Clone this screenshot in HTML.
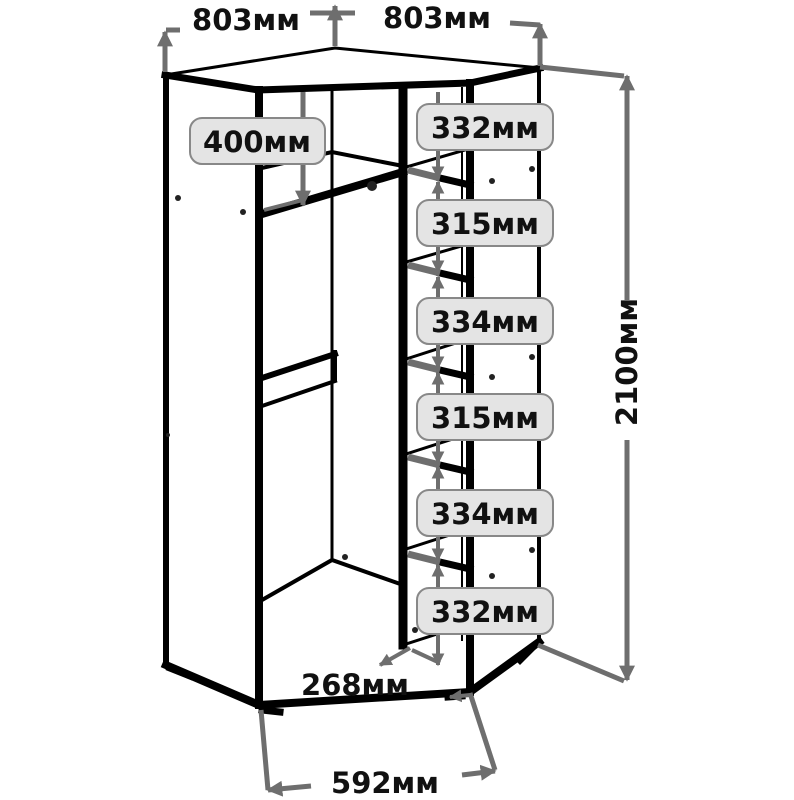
<!DOCTYPE html>
<html><head><meta charset="utf-8"><style>
html,body{margin:0;padding:0;background:#fff;width:794px;height:800px;overflow:hidden}
text{font-family:"DejaVu Sans","Liberation Sans",sans-serif;font-weight:bold;fill:#111}
</style></head><body>
<svg width="794" height="800" viewBox="0 0 794 800" xmlns="http://www.w3.org/2000/svg">
<defs>
<marker id="a" viewBox="0 0 10 10" refX="9" refY="5" markerWidth="3.2" markerHeight="3.2" orient="auto"><path d="M0,0L10,5L0,10z" fill="#6e6e6e"/></marker>
</defs>
<g stroke="#000" fill="none" stroke-linecap="square">
<path d="M165,75 L335,48 L540,68" stroke-width="3"/>
<path d="M165,75 L258,90 L470,83 L540,68" stroke-width="7"/>
<line x1="166" y1="75" x2="166" y2="665" stroke-width="6"/>
<line x1="259" y1="90" x2="259" y2="705" stroke-width="8"/>
<line x1="332" y1="92" x2="332" y2="560" stroke-width="3"/>
<line x1="403" y1="88" x2="403" y2="645" stroke-width="9"/>
<line x1="462" y1="88" x2="462" y2="640" stroke-width="2"/>
<line x1="470" y1="83" x2="470" y2="692" stroke-width="8"/>
<line x1="539" y1="68" x2="539" y2="640" stroke-width="4"/>
<path d="M166,665 L259,705 L470,692 L539,642" stroke-width="8"/>
<path d="M262,600 L332,560 L403,585" stroke-width="4"/>
<path d="M262,168 L332,152 L403,166" stroke-width="4"/>
<line x1="262" y1="214" x2="403" y2="172" stroke-width="8"/>
<line x1="262" y1="378" x2="335" y2="354" stroke-width="6"/>
<line x1="262" y1="406" x2="335" y2="381" stroke-width="4"/>
<line x1="335" y1="352" x2="335" y2="380" stroke-width="4"/>
<g stroke-width="3"><path d="M403,168 L465,150"/><path d="M403,263 L465,245"/><path d="M403,360 L465,340"/><path d="M403,455 L465,435"/><path d="M403,550 L465,530"/><path d="M403,645 L465,625"/></g>
<g stroke-width="7"><path d="M440,178 L470,185"/><path d="M440,273 L470,280"/><path d="M440,370 L470,377"/><path d="M440,465 L470,472"/><path d="M440,562 L470,569"/></g>
<path d="M170,668 L190,676 M262,710 L280,712 M448,697 L462,696 M520,660 L532,648" stroke-width="7"/>
</g>
<g fill="#222"><circle cx="178" cy="198" r="3"/><circle cx="243" cy="212" r="3"/><circle cx="168" cy="435" r="2"/><circle cx="345" cy="557" r="3"/><circle cx="415" cy="630" r="3"/><circle cx="372" cy="186" r="5"/><circle cx="492" cy="181" r="3"/><circle cx="532" cy="169" r="3"/><circle cx="492" cy="377" r="3"/><circle cx="532" cy="357" r="3"/><circle cx="492" cy="576" r="3"/><circle cx="532" cy="550" r="3"/></g>
<g stroke="#6e6e6e" stroke-width="7"><path d="M408,170 L440,178"/><path d="M408,265 L440,273"/><path d="M408,362 L440,370"/><path d="M408,457 L440,465"/><path d="M408,554 L440,562"/><path d="M264,210 L303,200" stroke-width="4"/></g>
<g stroke="#6e6e6e" stroke-width="5" fill="none">
<line x1="165" y1="72" x2="165" y2="32" marker-end="url(#a)"/>
<line x1="180" y1="30" x2="166" y2="30"/>
<line x1="335" y1="46" x2="335" y2="6" marker-end="url(#a)"/>
<line x1="310" y1="13" x2="355" y2="13"/>
<line x1="510" y1="23" x2="540" y2="25"/>
<line x1="540" y1="66" x2="540" y2="24" marker-end="url(#a)"/>
<line x1="540" y1="67" x2="624" y2="76"/>
<line x1="538" y1="645" x2="624" y2="681"/>
<line x1="627" y1="300" x2="627" y2="76" marker-end="url(#a)"/>
<line x1="627" y1="440" x2="627" y2="680" marker-end="url(#a)"/>
<line x1="303" y1="92" x2="303" y2="205" marker-end="url(#a)"/>
<g stroke-width="4">
<line x1="438" y1="92" x2="438" y2="178" marker-end="url(#a)"/>
<line x1="438" y1="240" x2="438" y2="182" marker-end="url(#a)"/>
<line x1="438" y1="245" x2="438" y2="272" marker-end="url(#a)"/>
<line x1="438" y1="300" x2="438" y2="277" marker-end="url(#a)"/>
<line x1="438" y1="345" x2="438" y2="368" marker-end="url(#a)"/>
<line x1="438" y1="395" x2="438" y2="373" marker-end="url(#a)"/>
<line x1="438" y1="440" x2="438" y2="463" marker-end="url(#a)"/>
<line x1="438" y1="490" x2="438" y2="467" marker-end="url(#a)"/>
<line x1="438" y1="537" x2="438" y2="560" marker-end="url(#a)"/>
<line x1="438" y1="588" x2="438" y2="565" marker-end="url(#a)"/>
<line x1="438" y1="635" x2="438" y2="665" marker-end="url(#a)"/>
<line x1="410" y1="648" x2="380" y2="665" marker-end="url(#a)"/>
<line x1="412" y1="650" x2="440" y2="663"/>
<line x1="470" y1="695" x2="450" y2="697" marker-end="url(#a)"/>
</g>
<line x1="261" y1="710" x2="268" y2="790"/>
<line x1="311" y1="786" x2="268" y2="790" marker-end="url(#a)"/>
<line x1="470" y1="693" x2="495" y2="770"/>
<line x1="462" y1="775" x2="495" y2="771" marker-end="url(#a)"/>
</g>
<g fill="#e4e4e4" stroke="#888" stroke-width="2">
<rect x="190" y="118" width="135" height="46" rx="12"/>
<rect x="417" y="104" width="136" height="46" rx="12"/>
<rect x="417" y="200" width="136" height="46" rx="12"/>
<rect x="417" y="298" width="136" height="46" rx="12"/>
<rect x="417" y="394" width="136" height="46" rx="12"/>
<rect x="417" y="490" width="136" height="46" rx="12"/>
<rect x="417" y="588" width="136" height="46" rx="12"/>
</g>
<g font-size="29" text-anchor="middle">
<text x="257" y="152">400мм</text>
<text x="485" y="138">332мм</text>
<text x="485" y="234">315мм</text>
<text x="485" y="332">334мм</text>
<text x="485" y="428">315мм</text>
<text x="485" y="524">334мм</text>
<text x="485" y="622">332мм</text>
<text x="246" y="30">803мм</text>
<text x="437" y="28">803мм</text>
<text x="355" y="695">268мм</text>
<text x="385" y="793">592мм</text>
<text transform="translate(637,362) rotate(-90)">2100мм</text>
</g>
</svg>
</body></html>
